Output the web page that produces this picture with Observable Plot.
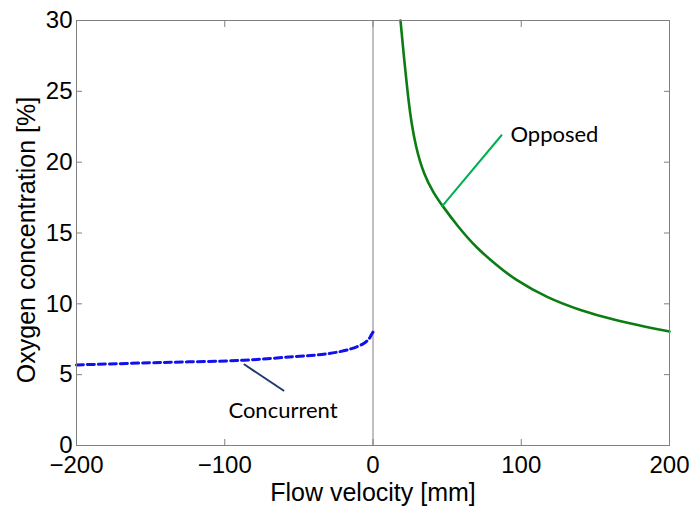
<!DOCTYPE html>
<html>
<head>
<meta charset="utf-8">
<script src="https://cdn.jsdelivr.net/npm/d3@7"></script>
<script src="https://cdn.jsdelivr.net/npm/@observablehq/plot@0.6"></script>
<style>
  html, body { margin: 0; padding: 0; background: #fff; }
  #chart svg { display: block; }
</style>
</head>
<body>
<div id="chart"></div>
<script>
// ---- data ----
const concurrentX = [-200, -143, -87, -53, -31, -15, -6, -2.5, -1.2, 0];
const concurrentY = [5.69, 5.86, 6.02, 6.28, 6.47, 6.82, 7.22, 7.55, 7.8, 8.0];

const opposedX = [18.55, 20.57, 22.6, 24.82, 28.67, 34.27, 41.01, 46.68, 56.8, 70.29, 83.78, 94.98, 117.5, 139.97, 162.4, 184.96, 200];
const opposedY = [30, 27.74, 25.69, 23.51, 21.11, 19.13, 17.79, 16.94, 15.51, 13.88, 12.71, 11.75, 10.41, 9.53, 8.86, 8.35, 8.05];

const xTicks = [-200, -100, 0, 100, 200];
const yTicks = [0, 5, 10, 15, 20, 25, 30];

const xLabel = ["Flow velocity [mm]"];
const yLabel = ["Oxygen concentration [%]"];

// annotation labels and leader-line endpoints (data units)
const annLabels = ["Opposed", "Concurrent"];
const annX = [92.7, -60.7];
const annY = [21.9, 2.47];
const opposedLeaderX = [46.7, 86.7];
const opposedLeaderY = [16.9, 21.9];
const concurrentLeaderX = [-86.7, -60.4];
const concurrentLeaderY = [5.72, 3.88];

const concurrent = concurrentX.map((x, i) => ({x, y: concurrentY[i]}));
const opposed = opposedX.map((x, i) => ({x, y: opposedY[i]}));
const oppLeader = opposedLeaderX.map((x, i) => ({x, y: opposedLeaderY[i]}));
const conLeader = concurrentLeaderX.map((x, i) => ({x, y: concurrentLeaderY[i]}));

const axisColor = "#808080";
const fmt = d => d < 0 ? "\u2212" + Math.abs(d) : String(d);

const chart = Plot.plot({
  width: 693,
  height: 508,
  marginLeft: 76,
  marginRight: 24,
  marginTop: 20,
  marginBottom: 63,
  style: {fontFamily: "'Liberation Sans', Arial, sans-serif", fontSize: "24px", background: "#fff", color: "#000"},
  x: {domain: [-200, 200]},
  y: {domain: [0, 30]},
  marks: [
    Plot.ruleX([0], {stroke: axisColor, strokeWidth: 1}),
    Plot.line(concurrent, {x: "x", y: "y", stroke: "#1010f0", strokeWidth: 3, strokeDasharray: "7,4", curve: "catmull-rom"}),
    Plot.line(opposed, {x: "x", y: "y", stroke: "#0b7d12", strokeWidth: 2.6, curve: "basis"}),
    Plot.line(oppLeader, {x: "x", y: "y", stroke: "#00b050", strokeWidth: 2}),
    Plot.line(conLeader, {x: "x", y: "y", stroke: "#1f3870", strokeWidth: 2}),
    Plot.text([annLabels[0]], {x: annX[0], y: annY[0], text: d => d, textAnchor: "start", fontFamily: "Lato, 'Open Sans', sans-serif", fontSize: 22, fill: "#000"}),
    Plot.text([annLabels[1]], {x: annX[1], y: annY[1], text: d => d, textAnchor: "middle", fontFamily: "Lato, 'Open Sans', sans-serif", fontSize: 22, fill: "#000"}),
    Plot.frame({stroke: axisColor, strokeWidth: 1}),
    Plot.axisX(xTicks, {anchor: "bottom", tickSize: -6, tickPadding: 16, stroke: axisColor, tickFormat: fmt, label: null, fill: "#000"}),
    Plot.axisX(xTicks, {anchor: "top", tickSize: -6, stroke: axisColor, tickFormat: () => "", label: null}),
    Plot.axisY(yTicks, {anchor: "left", tickSize: -6, tickPadding: 10, stroke: axisColor, tickFormat: fmt, label: null, fill: "#000"}),
    Plot.axisY(yTicks, {anchor: "right", tickSize: -6, stroke: axisColor, tickFormat: () => "", label: null}),
    Plot.text(xLabel, {frameAnchor: "bottom", textAnchor: "middle", lineAnchor: "middle", dy: 47, text: d => d, fontSize: 25, letterSpacing: 1.4, fill: "#000"}),
    Plot.text(yLabel, {frameAnchor: "left", textAnchor: "middle", lineAnchor: "middle", rotate: -90, dx: -50, dy: 7, text: d => d, fontSize: 25, letterSpacing: 2.2, fill: "#000"})
  ]
});
document.getElementById("chart").appendChild(chart);
</script>
</body>
</html>
